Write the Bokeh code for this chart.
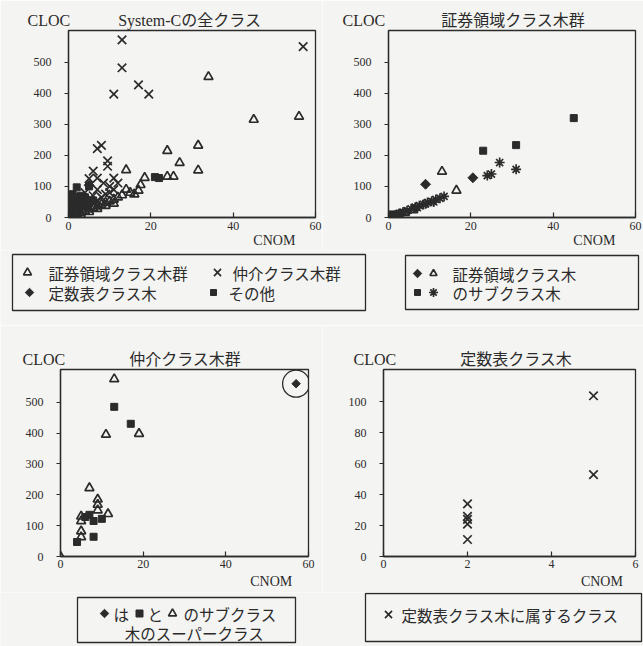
from bokeh.plotting import figure
from bokeh.layouts import column, row
from bokeh.models import FixedTicker, Range1d, Title, LinearAxis
from bokeh.embed import file_html
from bokeh.resources import INLINE
from bokeh.core.properties import value

BG = "#f4f4f2"
INK = "#2b2b2b"
SERIF = "Liberation Serif"
JP = "Noto Sans CJK JP"
MIX = "'Liberation Serif', 'Noto Sans CJK JP'"
NB = "\u00a0"

# ---------------- data ----------------
# Panel 1: System-C all classes
sec_all_x = [34, 45, 56, 31.5, 24, 27, 31.5, 24, 25.5, 14, 18.5, 17.5, 17, 15, 13, 12, 11, 10, 9, 8,
             7, 6, 5, 4, 3, 2, 1, 14, 16, 11, 9, 7, 5, 3, 0.5]
sec_all_y = [453, 315, 325, 232, 215, 176, 152, 132, 132, 153, 128, 105, 87, 80, 72, 65, 58, 52, 48, 42,
             36, 30, 26, 20, 15, 10, 5, 90, 75, 45, 38, 28, 18, 8, 2]
med_all_x = [13, 13, 11, 17, 19.5, 57, 7, 8, 9.5, 9.5, 6, 11, 7, 8.5, 12, 5, 4, 6, 3, 5,
             2, 8, 10, 1, 0.5, 3, 7, 4, 1.5, 2.5, 5, 6, 7, 9, 10, 11]
med_all_y = [572, 482, 397, 427, 397, 550, 222, 232, 182, 165, 149, 127, 127, 111, 111, 125, 80, 70, 50, 60,
             30, 65, 100, 10, 2, 65, 90, 45, 20, 40, 35, 45, 55, 75, 80, 90]
const_x = [2, 2, 2, 2, 2, 5, 5]
const_y = [34, 26, 24, 21, 11, 104, 53]
other_all_x = [2, 5, 21, 22, 1, 2, 3, 1, 4, 3, 0.5, 0.5, 1.5, 2.5, 3.5, 4.5, 1, 2, 4, 5, 6]
other_all_y = [97, 100, 130, 127, 60, 50, 40, 30, 55, 70, 20, 45, 40, 60, 45, 35, 75, 65, 65, 45, 55]

# Panel 2: securities-domain class trees (subclass trees)
sub_dia_x = [9, 20.5, 1, 3]
sub_dia_y = [107, 128, 4, 12]
sub_tri_x = [13, 16.5, 0.5, 2, 4, 6]
sub_tri_y = [148, 87, 2, 8, 15, 24]
sub_sq_x = [45, 31, 23, 0, 1, 2, 0.5]
sub_sq_y = [320, 233, 215, 0, 6, 3, 10]
sub_ast_x = [27, 31, 25, 24, 13.5, 12.5, 11.5, 10.5, 9.5, 8.5, 7.5, 6.5, 5.5, 4.5, 3.5, 2.5, 1.5, 11, 9, 7]
sub_ast_y = [177, 155, 140, 135, 68, 62, 58, 52, 48, 42, 38, 33, 28, 22, 17, 12, 7, 50, 44, 32]

# Panel 3: mediation class trees
med_tri_x = [13, 11, 19, 7, 9, 9, 9, 11.5, 5, 5, 5, 5, 0]
med_tri_y = [575, 395, 398, 222, 185, 168, 150, 138, 130, 115, 82, 63, 0]
med_sq_x = [13, 17, 7, 8, 10, 8, 4, 6]
med_sq_y = [485, 430, 135, 115, 122, 64, 47, 128]
med_dia_x = [57]
med_dia_y = [560]

# ticks
x_ticks_60 = [0, 20, 40, 60]
y_ticks_500 = [0, 100, 200, 300, 400, 500]
x_ticks_6 = [0, 2, 4, 6]
y_ticks_100 = [0, 20, 40, 60, 80, 100]

titles = ["System-Cの全クラス", "証券領域クラス木群", "仲介クラス木群", "定数表クラス木"]


def make_panel(width, height, lb, rb, tb, bb, xmax, ymax, xticks, yticks, xstand,
               title, t_offset, gap, cnom_x, cnom_stand):
    head = Title(text="CLOC" + NB * gap + title, align="left", offset=t_offset,
                 text_font=MIX, text_font_size="16px", text_font_style="normal",
                 text_color=INK, standoff=4)
    p = figure(width=width, height=height, output_backend="svg", toolbar_location=None,
               title=head,
               x_range=Range1d(0, xmax), y_range=Range1d(0, ymax),
               min_border_left=lb, min_border_right=rb, min_border_top=tb, min_border_bottom=bb,
               background_fill_color=BG, border_fill_color=BG,
               outline_line_color=INK, outline_line_width=1.3)
    p.grid.visible = False
    p.xaxis.ticker = FixedTicker(ticks=xticks)
    p.yaxis.ticker = FixedTicker(ticks=yticks)
    for ax in (p.xaxis, p.yaxis):
        ax.minor_tick_line_color = None
        ax.axis_line_color = INK
        ax.axis_line_width = 1.3
        ax.major_tick_line_color = INK
        ax.major_tick_line_width = 1.2
        ax.major_label_text_font = SERIF
        ax.major_label_text_font_size = "12px"
        ax.major_label_text_color = INK
    p.xaxis.major_tick_in = 5
    p.xaxis.major_tick_out = 0
    p.xaxis.major_label_standoff = xstand
    p.yaxis.major_tick_in = 0
    p.yaxis.major_tick_out = 4
    p.yaxis.major_label_standoff = 13
    cn = LinearAxis(ticker=FixedTicker(ticks=[cnom_x]), major_label_overrides={cnom_x: "CNOM"},
                    axis_line_color=None, major_tick_line_color=None, minor_tick_line_color=None,
                    major_tick_in=0, major_tick_out=0, major_label_standoff=cnom_stand,
                    major_label_text_font=SERIF, major_label_text_font_size="14px",
                    major_label_text_color=INK)
    p.add_layout(cn, "below")
    return p


def tri(p, xs, ys, size=9):
    p.scatter(xs, ys, marker="triangle", size=size, fill_color=None, line_color=INK, line_width=1.7)


def sq(p, xs, ys, size=7):
    p.scatter(xs, ys, marker="square", size=size, fill_color=INK, line_color=INK)


def dia(p, xs, ys, size=7):
    p.scatter(xs, ys, marker="square", angle=0.785, size=size, fill_color=INK, line_color=INK)


def cross(p, xs, ys, size=12, marker="x"):
    p.scatter(xs, ys, marker=marker, size=size, line_color=INK, line_width=1.7)


# Panel 1
p1 = make_panel(322, 250, 68, 7, 30, 30, 60, 602, x_ticks_60, y_ticks_500, 4,
                titles[0], -41, 12, 50, 0)
tri(p1, sec_all_x, sec_all_y)
sq(p1, other_all_x, other_all_y)
cross(p1, med_all_x, med_all_y)
dia(p1, const_x, const_y)

# Panel 2
p2 = make_panel(321, 250, 66, 8, 30, 32, 60, 602, x_ticks_60, y_ticks_500, 4,
                titles[1], -46, 14, 50, 0)
tri(p2, sub_tri_x, sub_tri_y)
sq(p2, sub_sq_x, sub_sq_y)
dia(p2, sub_dia_x, sub_dia_y)
cross(p2, sub_ast_x, sub_ast_y, size=10, marker="asterisk")

# Panel 3
p3 = make_panel(322, 267, 60, 14, 44, 34, 60, 606, x_ticks_60, y_ticks_500, 3,
                titles[2], -38, 16, 51, 3)
tri(p3, med_tri_x, med_tri_y)
sq(p3, med_sq_x, med_sq_y)
dia(p3, med_dia_x, med_dia_y, size=6)
p3.scatter(med_dia_x, med_dia_y, marker="circle", size=27, fill_color=None, line_color=INK, line_width=1.3)

# Panel 4
p4 = make_panel(321, 267, 61, 8, 42, 36, 6, 121, x_ticks_6, y_ticks_100, 3,
                titles[3], -30, 16, 5.2, 3)
cross(p4, const_x, const_y)


def legend_fig(width, height):
    f = figure(width=width, height=height, output_backend="svg", toolbar_location=None,
               x_range=Range1d(0, width), y_range=Range1d(0, height),
               x_axis_type=None, y_axis_type=None, min_border=0,
               background_fill_color=BG, border_fill_color=BG, outline_line_color=None)
    f.grid.visible = False
    return f


def ltext(f, x, y, s, align="left"):
    f.text([x], [y], text=[s], text_font=value(JP), text_font_size="15.5px", text_color=INK,
           text_align=align, text_baseline="middle")


# Top legends (page y 250..325)
lt = legend_fig(643, 75)
lt.quad(left=[12, 405], right=[365, 638], bottom=[15, 16], top=[71, 70],
        fill_color=None, line_color=INK, line_width=1.3)
tri(lt, [27], [53], size=8)
ltext(lt, 48, 53, "証券領域クラス木群")
cross(lt, [217], [53], size=10)
ltext(lt, 232, 53, "仲介クラス木群")
dia(lt, [29], [33], size=6)
ltext(lt, 48, 33, "定数表クラス木")
sq(lt, [213], [33], size=6)
ltext(lt, 228, 33, "その他")
dia(lt, [417], [52], size=6)
tri(lt, [433], [52], size=7)
ltext(lt, 452, 52, "証券領域クラス木")
sq(lt, [417], [33], size=6)
cross(lt, [433], [33], size=9, marker="asterisk")
ltext(lt, 452, 33, "のサブクラス木")

# Bottom legends (page y 592..646)
lb = legend_fig(643, 54)
lb.quad(left=[77, 365], right=[295, 641], bottom=[4, 5], top=[49, 53],
        fill_color=None, line_color=INK, line_width=1.3)
dia(lb, [104], [33], size=6)
ltext(lb, 113, 33, "は")
sq(lb, [139], [33], size=7)
ltext(lb, 147, 33, "と")
tri(lb, [172], [33], size=8)
ltext(lb, 183, 33, "のサブクラス")
ltext(lb, 194, 14, "木のスーパークラス", align="center")
cross(lb, [388], [32], size=10)
ltext(lb, 401, 32, "定数表クラス木に属するクラス")

layout = column(row(p1, p2), lt, row(p3, p4), lb)
open("out.html", "w").write(file_html(layout, INLINE))
